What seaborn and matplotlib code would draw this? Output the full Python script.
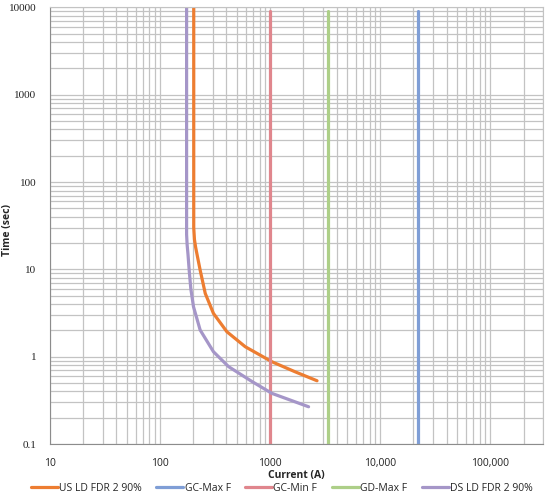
import matplotlib
matplotlib.use("Agg")
import matplotlib.pyplot as plt
import matplotlib.ticker as mticker
import seaborn as sns
import pandas as pd
import numpy as np

# ---- data ----
series_names = ["US LD FDR 2 90%", "GC-Max F", "GC-Min F", "GD-Max F", "DS LD FDR 2 90%"]
series_colors = ["#ED7D31", "#7F9ED6", "#E0868D", "#ADCF88", "#A596C8"]

us_current = [202, 202, 205, 210, 216, 231, 257, 305, 404, 593, 1036, 1688, 2660]
us_time = [10000, 30, 22, 18, 15, 9.8, 5.3, 3.13, 1.93, 1.30, 0.875, 0.67, 0.53]

ds_current = [174, 174, 176, 179, 184, 190, 201, 231, 305, 418, 682, 1036, 2230]
ds_time = [10000, 25, 19, 15, 9.5, 6.0, 3.73, 2.02, 1.14, 0.77, 0.52, 0.38, 0.267]

gc_max_current = [22000, 22000]
gc_max_time = [0.1, 9000]
gc_min_current = [1000, 1000]
gc_min_time = [0.1, 9000]
gd_max_current = [3350, 3350]
gd_max_time = [0.1, 9000]

x_ticks = [10, 100, 1000, 10000, 100000]
x_tick_labels = ["10", "100", "1000", "10,000", "100,000"]
y_ticks = [0.1, 1, 10, 100, 1000, 10000]
y_tick_labels = ["0.1", "1", "10", "100", "1000", "10000"]

# ---- build long table ----
frames = []
for name, xs, ys in [
    (series_names[0], us_current, us_time),
    (series_names[1], gc_max_current, gc_max_time),
    (series_names[2], gc_min_current, gc_min_time),
    (series_names[3], gd_max_current, gd_max_time),
    (series_names[4], ds_current, ds_time),
]:
    frames.append(pd.DataFrame({"Current": xs, "Time": ys, "Series": name}))
df = pd.concat(frames, ignore_index=True)

sns.set_style("white")
plt.rcParams["font.family"] = ["Open Sans", "DejaVu Sans"]

fig = plt.figure(figsize=(5.5, 4.97), dpi=100)
ax = fig.add_axes([50 / 550, 53 / 497, 493 / 550, (444 - 7.4) / 497])

ax.set_xscale("log")
ax.set_yscale("log")
ax.set_xlim(10, 300000)
ax.set_ylim(0.1, 10000)

sns.lineplot(data=df, x="Current", y="Time", hue="Series", hue_order=series_names,
             palette=dict(zip(series_names, series_colors)), units="Series",
             estimator=None, sort=False, linewidth=2.3, ax=ax, legend=True)

ax.xaxis.set_major_locator(mticker.FixedLocator(x_ticks))
ax.xaxis.set_major_formatter(mticker.FixedFormatter(x_tick_labels))
ax.yaxis.set_major_locator(mticker.FixedLocator(y_ticks))
ax.yaxis.set_major_formatter(mticker.FixedFormatter(y_tick_labels))
ax.xaxis.set_minor_locator(mticker.LogLocator(base=10, subs=np.arange(2, 10)))
ax.yaxis.set_minor_locator(mticker.LogLocator(base=10, subs=np.arange(2, 10)))
ax.xaxis.set_minor_formatter(mticker.NullFormatter())
ax.yaxis.set_minor_formatter(mticker.NullFormatter())

ax.grid(True, which="both", color="#c3c3c3", linewidth=0.9)
ax.set_axisbelow(True)
ax.tick_params(which="major", length=4, color="#8c8c8c", labelsize=7.5,
               labelcolor="#222222", pad=6)
ax.tick_params(which="minor", length=0)
for lbl in ax.get_yticklabels():
    lbl.set_family(["Liberation Serif", "DejaVu Serif"])
    lbl.set_fontsize(8)

for s in ["top", "right"]:
    ax.spines[s].set_color("#c3c3c3")
for s in ["left", "bottom"]:
    ax.spines[s].set_color("#8c8c8c")

ax.set_xlabel("Current (A)", fontsize=7.5, fontweight="bold", labelpad=1)
ax.set_ylabel("Time (sec)", fontsize=7.5, fontweight="bold")
ax.yaxis.set_label_coords(-0.075, 0.49)

handles, labels = ax.get_legend_handles_labels()
ax.legend(handles, labels, loc="upper center", bbox_to_anchor=(0.47, -0.08),
          ncol=5, frameon=False, fontsize=7.5, handlelength=2.6, handletextpad=0.1,
          columnspacing=1.4, borderaxespad=0)

fig.savefig("out.png", dpi=100)
